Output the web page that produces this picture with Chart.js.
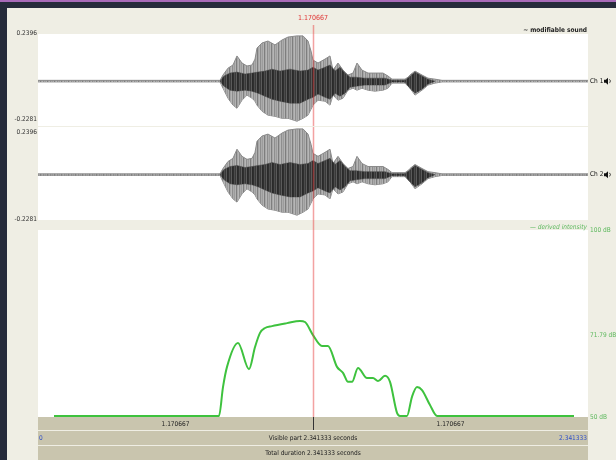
<!DOCTYPE html>
<html>
<head>
<meta charset="utf-8">
<script src="https://cdn.jsdelivr.net/npm/chart.js@4.4.1/dist/chart.umd.min.js"></script>
<style>
  html, body { margin: 0; padding: 0; }
  body { width: 616px; height: 460px; background: #262b3b; position: relative; overflow: hidden; }
  #topline { position: absolute; left: 0; top: 0; width: 616px; height: 2px; background: #a86ab8; }
  #panel { position: absolute; left: 7px; top: 8px; width: 609px; height: 452px; background: #efeee4; }
  canvas { position: absolute; }
</style>
</head>
<body>
<div id="topline"></div>
<div id="panel"></div>
<canvas id="ch1" width="608" height="119" style="left:8px;top:8px"></canvas>
<canvas id="ch2" width="608" height="99" style="left:8px;top:127px"></canvas>
<canvas id="inten" width="608" height="240" style="left:8px;top:220px"></canvas>
<script>
// ---- sound: outer amplitude envelope (seconds, amplitude) ----
const waveTime = [0, 0.7748, 0.7875, 0.8088, 0.8301, 0.8471, 0.8684, 0.8897, 0.9110, 0.9238,
  0.9323, 0.9536, 0.9791, 1.0089, 1.0387, 1.0643, 1.1026, 1.1281, 1.1494, 1.1622,
  1.1707, 1.1920, 1.2218, 1.2430, 1.2558, 1.2771, 1.2984, 1.3197, 1.3410, 1.3580,
  1.3793, 1.4048, 1.4346, 1.4687, 1.4900, 1.5070, 1.5283, 1.5623, 1.5751, 1.5836,
  1.6049, 1.6347, 1.6602, 1.6900, 1.7198, 2.3413];
const waveUpper = [0.004, 0.004, 0.031, 0.066, 0.082, 0.128, 0.092, 0.077, 0.082, 0.112,
  0.168, 0.194, 0.204, 0.184, 0.209, 0.224, 0.230, 0.230, 0.204, 0.153,
  0.107, 0.092, 0.112, 0.128, 0.056, 0.092, 0.056, 0.031, 0.041, 0.092,
  0.056, 0.041, 0.041, 0.041, 0.026, 0.010, 0.010, 0.010, 0.020, 0.031,
  0.051, 0.031, 0.015, 0.010, 0.004, 0.004];
const waveLower = [-0.004, -0.004, -0.036, -0.087, -0.122, -0.138, -0.097, -0.071, -0.087, -0.102,
  -0.122, -0.153, -0.173, -0.179, -0.189, -0.189, -0.204, -0.189, -0.173, -0.143,
  -0.122, -0.097, -0.102, -0.122, -0.071, -0.097, -0.087, -0.046, -0.036, -0.046,
  -0.036, -0.046, -0.051, -0.046, -0.036, -0.010, -0.010, -0.010, -0.026, -0.036,
  -0.071, -0.046, -0.020, -0.010, -0.004, -0.004];

// ---- sound: dense inner core of the waveform ----
const coreTime = [0.7748, 0.7918, 0.8173, 0.8471, 0.8812, 0.9110, 0.9365, 0.9663, 0.9961, 1.0302,
  1.0728, 1.1153, 1.1494, 1.1707, 1.1920, 1.2218, 1.2430, 1.2643, 1.2856, 1.3069,
  1.3282, 1.3537, 1.3920, 1.4772, 1.5070, 1.5623, 1.5793, 1.6049, 1.6347, 1.6602, 1.6900];
const coreUpper = [0, 0.026, 0.041, 0.046, 0.036, 0.041, 0.046, 0.051, 0.061, 0.051,
  0.061, 0.051, 0.056, 0.071, 0.056, 0.071, 0.082, 0.051, 0.071, 0.041,
  0.020, 0.020, 0.015, 0.015, 0.005, 0.005, 0.020, 0.046, 0.026, 0.010, 0];
const coreLower = [0, -0.026, -0.046, -0.051, -0.046, -0.051, -0.061, -0.077, -0.092, -0.102,
  -0.112, -0.112, -0.092, -0.082, -0.066, -0.082, -0.092, -0.061, -0.077, -0.061,
  -0.031, -0.026, -0.020, -0.020, -0.005, -0.005, -0.031, -0.061, -0.041, -0.015, 0];

// ---- derived intensity (seconds, dB) ----
const intensityTime = [0.0681, 0.7705, 0.7875, 0.8046, 0.8514, 0.8982, 0.9238, 0.9451, 0.9663, 0.9961,
  1.0600, 1.1153, 1.1366, 1.1707, 1.2090, 1.2345, 1.2728, 1.2984, 1.3197, 1.3367,
  1.3622, 1.4006, 1.4261, 1.4474, 1.4772, 1.4985, 1.5283, 1.5410, 1.5708, 1.5921,
  1.6134, 1.6347, 1.6687, 1.6985, 2.2818];
const intensityDb = [50.3, 50.3, 58.0, 63.4, 69.8, 62.8, 68.7, 72.5, 73.8, 74.3,
  75.1, 75.7, 75.4, 71.9, 69.0, 69.0, 63.4, 61.8, 59.4, 59.4,
  63.1, 60.4, 60.4, 59.6, 61.0, 59.4, 51.1, 50.3, 50.3, 55.4,
  58.0, 57.2, 53.2, 50.3, 50.3];

// ---- axes and labels ----
const ampRange = [-0.2281, 0.2396];
const ampLabels = ['-0.2281', '0.2396'];
const dbRange = [50, 100];
const dbTicks = [50, 71.79, 100];
const cursorTime = 1.170667;
const totalDuration = 2.341333;
const cursorLabel = '1.170667';
const partLabels = ['1.170667', '1.170667'];
const windowLabels = ['0', 'Visible part 2.341333 seconds', '2.341333'];
const totalLabel = 'Total duration 2.341333 seconds';

const FONT = '"Liberation Sans Narrow", "DejaVu Sans Condensed", "Liberation Sans", sans-serif';
const pts = (xs, ys) => xs.map((x, i) => ({ x, y: ys[i] }));

// vertical hatching that imitates the dense sample strokes of a waveform
function stripePattern(cols) {
  const c = document.createElement('canvas');
  c.width = cols.length; c.height = 1;
  const g = c.getContext('2d');
  cols.forEach((col, i) => { g.fillStyle = col; g.fillRect(i, 0, 1, 1); });
  return g.createPattern(c, 'repeat');
}
const outerFill = stripePattern(['#8e8e8e', '#ababab', '#9c9c9c', '#b2b2b2', '#7e7e7e', '#a6a6a6', '#b6b6b6']);
const coreFill = stripePattern(['#2f2f2f', '#4b4b4b', '#383838', '#5a5a5a', '#2a2a2a']);

function whiteArea(chart) {
  const { ctx, chartArea: a } = chart;
  ctx.save();
  ctx.fillStyle = '#ffffff';
  ctx.fillRect(a.left, a.top, a.right - a.left, a.bottom - a.top);
  ctx.restore();
}

// red time cursor across every panel
function cursorLine(chart, top) {
  const { ctx, chartArea: a, scales } = chart;
  const x = Math.round(scales.x.getPixelForValue(cursorTime));
  ctx.save();
  ctx.fillStyle = 'rgba(232, 70, 70, 0.5)';
  ctx.fillRect(x - 0.25, top, 1.5, a.bottom - top);
  ctx.restore();
}

function speaker(ctx, x, y) {
  ctx.save();
  ctx.fillStyle = '#111';
  ctx.beginPath();
  ctx.moveTo(x, y - 1.5); ctx.lineTo(x + 1.8, y - 1.5); ctx.lineTo(x + 4, y - 3.5);
  ctx.lineTo(x + 4, y + 3.5); ctx.lineTo(x + 1.8, y + 1.5); ctx.lineTo(x, y + 1.5);
  ctx.closePath(); ctx.fill();
  ctx.strokeStyle = '#111'; ctx.lineWidth = 0.8;
  ctx.beginPath(); ctx.arc(x + 4, y, 2.3, -0.9, 0.9); ctx.stroke();
  ctx.restore();
}

function channelChart(id, padding, chName, labelShift, extra) {
  return new Chart(document.getElementById(id), {
    type: 'line',
    data: {
      datasets: [
        { data: pts(coreTime, coreUpper), fill: '+1', backgroundColor: coreFill, borderColor: '#444', borderWidth: 0.5 },
        { data: pts(coreTime, coreLower), fill: false, borderColor: '#444', borderWidth: 0.5 },
        { data: pts(waveTime, waveUpper), fill: '+1', backgroundColor: outerFill, borderColor: '#8a8a8a', borderWidth: 1 },
        { data: pts(waveTime, waveLower), fill: false, borderColor: '#8a8a8a', borderWidth: 1 }
      ]
    },
    options: {
      responsive: false,
      animation: false,
      devicePixelRatio: 1,
      layout: { padding },
      elements: { point: { radius: 0 }, line: { tension: 0 } },
      plugins: { legend: { display: false }, tooltip: { enabled: false } },
      scales: {
        x: { type: 'linear', min: 0, max: totalDuration, display: false },
        y: { type: 'linear', min: ampRange[0], max: ampRange[1], display: false }
      }
    },
    plugins: [{
      id: 'channelFrame',
      beforeDraw: whiteArea,
      afterDatasetsDraw(chart) { cursorLine(chart, extra ? 17 : chart.chartArea.top); },
      afterDraw(chart) {
        const { ctx, chartArea: a, scales } = chart;
        ctx.save();
        ctx.font = '6.5px ' + FONT;
        ctx.fillStyle = '#333';
        ctx.textAlign = 'right';
        ctx.textBaseline = 'middle';
        ctx.fillText(ampLabels[1], a.left - 1, scales.y.getPixelForValue(ampRange[1]) + labelShift[1]);
        ctx.fillText(ampLabels[0], a.left - 1, scales.y.getPixelForValue(ampRange[0]) + labelShift[0]);
        ctx.textAlign = 'left';
        ctx.fillStyle = '#111';
        ctx.fillText(chName, a.right + 2, scales.y.getPixelForValue(0));
        speaker(ctx, a.right + 16, scales.y.getPixelForValue(0));
        if (extra) {
          ctx.textAlign = 'center';
          ctx.fillStyle = '#e03434';
          ctx.font = '7px ' + FONT;
          ctx.fillText(cursorLabel, scales.x.getPixelForValue(cursorTime), 10);
          ctx.textAlign = 'right';
          ctx.fillStyle = '#222';
          ctx.font = 'bold 6.5px ' + FONT;
          ctx.fillText('~ modifiable sound', a.right - 1, 22);
        }
        ctx.restore();
      }
    }]
  });
}

channelChart('ch1', { left: 30, right: 28, top: 26, bottom: 1 }, 'Ch 1', [-7, -1], true);
channelChart('ch2', { left: 30, right: 28, top: 0, bottom: 6 }, 'Ch 2', [-1, 5], false);

new Chart(document.getElementById('inten'), {
  type: 'line',
  data: {
    datasets: [{
      data: pts(intensityTime, intensityDb),
      borderColor: '#3ec23e',
      borderWidth: 2,
      fill: false,
      cubicInterpolationMode: 'monotone'
    }]
  },
  options: {
    responsive: false,
    animation: false,
    devicePixelRatio: 1,
    layout: { padding: { left: 30, right: 0, top: 10, bottom: 43 } },
    elements: { point: { radius: 0 } },
    plugins: { legend: { display: false }, tooltip: { enabled: false } },
    scales: {
      x: { type: 'linear', min: 0, max: totalDuration, display: false },
      y: {
        type: 'linear', position: 'right', min: dbRange[0], max: dbRange[1],
        afterBuildTicks(scale) { scale.ticks = dbTicks.map(v => ({ value: v })); },
        afterFit(scale) { scale.width = 28; },
        grid: { display: false, drawTicks: false },
        border: { display: false },
        ticks: {
          color: '#5cb85c', padding: 2,
          font: { family: FONT, size: 6.5 },
          callback: v => v + ' dB'
        }
      }
    }
  },
  plugins: [{
    id: 'intensityFrame',
    beforeDraw: whiteArea,
    afterDatasetsDraw(chart) { cursorLine(chart, 0); },
    afterDraw(chart) {
      const { ctx, chartArea: a, scales } = chart;
      const x0 = a.left, x1 = a.right;
      const xc = Math.round(scales.x.getPixelForValue(cursorTime));
      const y1 = a.bottom, y2 = a.bottom + 14, y3 = a.bottom + 29;
      ctx.save();
      ctx.fillStyle = '#c9c5ae';
      ctx.fillRect(x0, y1, x1 - x0, 13);
      ctx.fillRect(x0, y2, x1 - x0, 14);
      ctx.fillRect(x0, y3, x1 - x0, 14);
      ctx.fillStyle = '#333';
      ctx.fillRect(xc, y1, 1, 13);

      ctx.font = '6.5px ' + FONT;
      ctx.textBaseline = 'middle';
      ctx.textAlign = 'center';
      ctx.fillStyle = '#222';
      ctx.fillText(partLabels[0], (x0 + xc) / 2, y1 + 7);
      ctx.fillText(partLabels[1], (xc + x1) / 2, y1 + 7);
      ctx.fillText(windowLabels[1], xc, y2 + 7);
      ctx.fillText(totalLabel, xc, y3 + 7);
      ctx.fillStyle = '#3050c8';
      ctx.textAlign = 'left';
      ctx.fillText(windowLabels[0], x0 + 1, y2 + 7);
      ctx.textAlign = 'right';
      ctx.fillText(windowLabels[2], x1 - 1, y2 + 7);

      ctx.fillStyle = '#5cb85c';
      ctx.font = 'italic 6.5px ' + FONT;
      ctx.fillText('\u2014 derived intensity', x1 - 1, a.top - 3);
      ctx.restore();
    }
  }]
});
</script>
</body>
</html>
